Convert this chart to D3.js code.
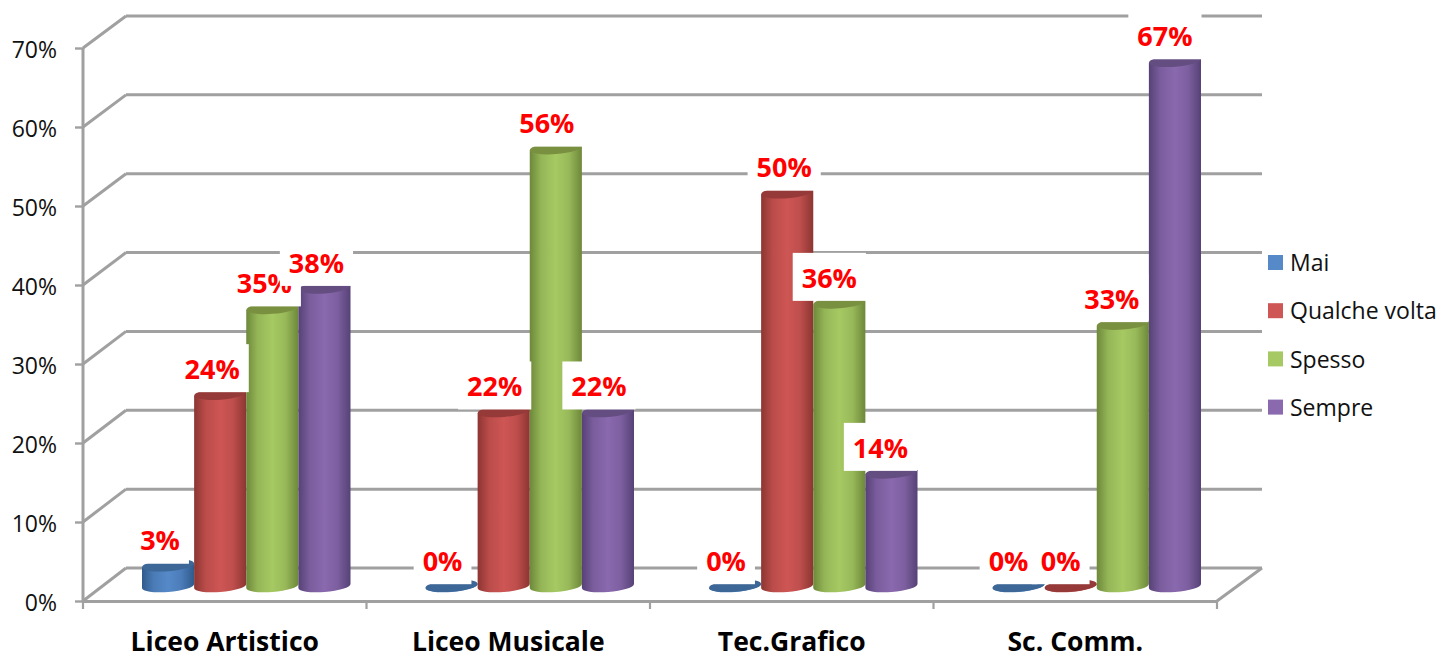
<!DOCTYPE html>
<html><head><meta charset="utf-8">
<script src="https://cdn.jsdelivr.net/npm/d3@7/dist/d3.min.js"></script>
<style>html,body{margin:0;padding:0;background:#fff}svg{display:block}text{font-family:"Open Sans",sans-serif}</style>
</head><body><svg id="c" width="1440" height="655"></svg>
<script>
const categories = ["Liceo Artistico","Liceo Musicale","Tec.Grafico","Sc. Comm."];
const seriesNames = ["Mai","Qualche volta","Spesso","Sempre"];
const mai = [2.6,0,0,0];
const qualche = [24.4,22.2,50,0];
const spesso = [35.3,55.6,36,33.3];
const sempre = [37.9,22.2,14.4,66.7];
const yTicks = [0,10,20,30,40,50,60,70];
const edgeColors = ["#2f5a8c","#8c3532","#6d883a","#564276"];
const midColors = ["#5589c8","#ce5654","#a6c963","#8a69ae"];
const capColors = ["#3c6796","#953a38","#7a9041","#644d80"];
const labelOffsets = [[-8,-8,-8,-8],[-9,-9,-9,-9],[-9,-3,-10,-11],[-10,-10,-11,-10]];
const allSeries = [mai,qualche,spesso,sempre];

const svg = d3.select("#c");
const x0 = d3.scaleBand().domain(categories).range([83,1217]);
const x1 = d3.scaleBand().domain(seriesNames).range([59,267.5]);
const yFront = d3.scaleLinear().domain([0,70]).range([601,48]);
const yBack = d3.scaleLinear().domain([0,70]).range([568,16]);
const yBar = d3.scaleLinear().domain([0,70]).range([584.7,33.8]);
const grey = "#a0a0a0";

const defs = svg.append("defs");
seriesNames.forEach((s,i)=>{
  const g = defs.append("linearGradient").attr("id","g"+i).attr("x1",0).attr("x2",1).attr("y1",0).attr("y2",0);
  [[0,edgeColors[i]],[.22,d3.interpolateRgb(edgeColors[i],midColors[i])(.7)],[.5,midColors[i]],[.75,d3.interpolateRgb(edgeColors[i],midColors[i])(.75)],[1,edgeColors[i]]]
    .forEach(([o,c])=>g.append("stop").attr("offset",o).attr("stop-color",c));
});

// walls and floor
const grid = svg.append("g").attr("fill","none").attr("stroke",grey).attr("stroke-width",3);
yTicks.forEach(t=>{
  grid.append("line").attr("x1",126).attr("x2",1262).attr("y1",yBack(t)).attr("y2",yBack(t));
  grid.append("line").attr("x1",83).attr("x2",126).attr("y1",yFront(t)).attr("y2",yBack(t));
});
grid.append("line").attr("x1",1217).attr("x2",1262).attr("y1",yFront(0)).attr("y2",yBack(0));
grid.append("line").attr("x1",83).attr("x2",83).attr("y1",yFront(0)).attr("y2",yFront(70));

// axes
const ay = svg.append("g").attr("transform","translate(83,0)")
  .call(d3.axisLeft(yFront).tickValues(yTicks).tickFormat(d=>d+"%").tickSize(8).tickPadding(18));
ay.select(".domain").remove();
ay.selectAll("line").attr("stroke",grey).attr("stroke-width",2.4);
ay.selectAll("text").attr("font-size",23).attr("fill","#111").attr("dy","0.4em");

const ax = svg.append("g").attr("transform","translate(0,601)")
  .call(d3.axisBottom(x0).tickSize(0).tickPadding(31));
ax.select(".domain").attr("stroke",grey).attr("stroke-width",3);
ax.selectAll("text").attr("font-size",26.5).attr("font-weight",700).attr("fill","#000");
[...categories.map(c=>x0(c)),1217].forEach(x=>
  svg.append("line").attr("x1",x).attr("x2",x).attr("y1",601).attr("y2",609).attr("stroke",grey).attr("stroke-width",2.2));

// cylinders
const tilt = -4.5, baseY = 586, ry = 6;
const bars = svg.append("g");
categories.forEach((c,ci)=>{
  seriesNames.forEach((s,si)=>{
    const v = allSeries[si][ci];
    const l = x0(c)+x1(s), w = x1.bandwidth(), r = l+w, m = l+w/2, top = yBar(v)+1, rx = w/2;
    const d = 2;
    const g = bars.append("g");
    g.append("path")
      .attr("d",`M${l},${top+d}L${l},${baseY+d}A${rx},${ry} ${tilt} 0 0 ${r},${baseY-d}L${r},${top-d}Z`)
      .attr("fill",`url(#g${si})`);
    g.append("ellipse").attr("cx",m).attr("cy",top).attr("rx",rx).attr("ry",ry)
      .attr("transform",`rotate(${tilt} ${m} ${top})`).attr("fill",capColors[si]);
  });
});

// data labels with white boxes
const labels = svg.append("g");
categories.forEach((c,ci)=>{
  seriesNames.forEach((s,si)=>{
    const v = allSeries[si][ci];
    const bx = x0(c)+x1(s)+x1.bandwidth()/2 + labelOffsets[ci][si];
    const bottom = yBar(v)-0.5;
    const rect = labels.append("rect").attr("fill","#fff");
    const t = labels.append("text").attr("x",bx).attr("y",bottom-23).attr("dy","0.36em")
      .attr("text-anchor","middle").attr("font-size",27).attr("font-weight",700).attr("fill","#ff0000")
      .text(Math.round(v)+"%");
    const tw = t.node().getComputedTextLength();
    rect.attr("x",bx-tw/2-9).attr("width",tw+18).attr("y",bottom-48).attr("height",48);
  });
});

// legend
const legend = svg.append("g");
seriesNames.forEach((s,i)=>{
  const y = 263+i*48.2;
  legend.append("rect").attr("x",1268).attr("y",y-8).attr("width",15).attr("height",15).attr("fill",midColors[i]);
  legend.append("text").attr("x",1290).attr("y",y).attr("dy","0.36em").attr("font-size",23).attr("fill","#111").text(s);
});
</script></body></html>
